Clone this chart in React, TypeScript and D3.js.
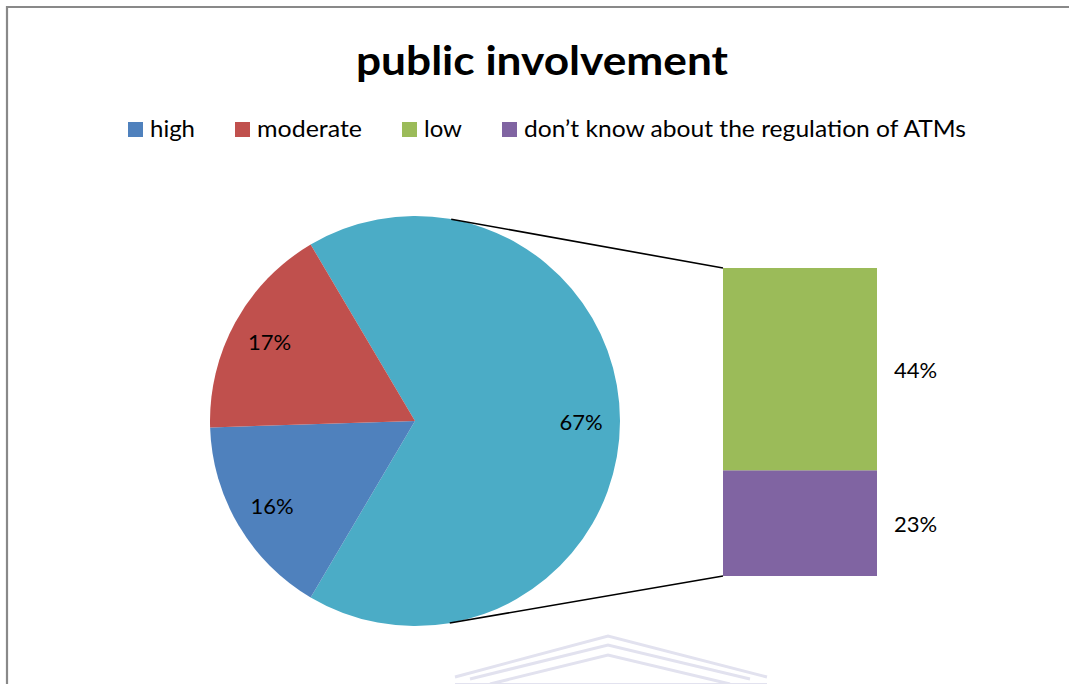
import React from "react";
import * as d3 from "d3";

const title = "public involvement";
const pieCategories = ["other", "high", "moderate"];
const pieValues = [67, 16, 17];
const pieLabels = ["67%", "16%", "17%"];
const barCategories = ["don’t know about the regulation of ATMs", "low"];
const barValues = [23, 44];
const barLabels = ["23%", "44%"];
const legendCategories = ["high", "moderate", "low", "don’t know about the regulation of ATMs"];
const colors: Record<string, string> = {
  high: "#4F81BD",
  moderate: "#C0504D",
  low: "#9BBB59",
  "don’t know about the regulation of ATMs": "#8064A2",
  other: "#4BACC6",
};

const FONT = "Lato, 'Open Sans', sans-serif";

export default function App() {
  const W = 1069, H = 684;
  const cx = 415, cy = 421, r = 205;
  const total = d3.sum(pieValues);
  const otherFrac = pieValues[0] / total;
  const start = Math.PI / 2 - otherFrac * Math.PI;
  const pie = d3.pie<number>().sort(null).value((d) => d).startAngle(start).endAngle(start + 2 * Math.PI);
  const arcs = pie(pieValues);
  const arcGen = d3.arc<d3.PieArcDatum<number>>().innerRadius(0).outerRadius(r);
  const labelArc = d3.arc<d3.PieArcDatum<number>>().innerRadius(r * 0.81).outerRadius(r * 0.81);

  const barX0 = 723, barX1 = 877, barTop = 268, barBottom = 576;
  const y = d3.scaleLinear().domain([0, d3.sum(barValues)]).range([barBottom, barTop]);
  let acc = 0;
  const bars = barValues.map((v, i) => {
    const b = { cat: barCategories[i], y0: y(acc + v), y1: y(acc), label: barLabels[i] };
    acc += v;
    return b;
  });

  const tangent = (px: number, py: number, sign: number) => {
    const dx = px - cx, dy = py - cy;
    const d = Math.hypot(dx, dy);
    const th = Math.atan2(dy, dx);
    const a = th + sign * Math.acos(r / d);
    return [cx + r * Math.cos(a), cy + r * Math.sin(a)];
  };
  const tTop = tangent(barX0, barTop, -1);
  const tBot = tangent(barX0, barBottom, 1);

  const legendX = [128, 235, 402, 502];
  const legendW = [45, 105, 38, 442];

  return (
    <svg width={W} height={H} style={{ position: "absolute", left: 0, top: 0, background: "#fff" }}>
      <rect x={0} y={0} width={W} height={H} fill="#fff" />
      <path d={`M7,${H} V7 H${W}`} fill="none" stroke="#898989" strokeWidth={2.2} />
      <text x={542} y={75} textAnchor="middle" fontFamily={FONT} fontWeight="bold" fontSize={40} textLength={372} lengthAdjust="spacingAndGlyphs" fill="#000">
        {title}
      </text>
      {legendCategories.map((c, i) => (
        <g key={c}>
          <rect x={legendX[i]} y={122} width={15} height={15} fill={colors[c]} />
          <text x={legendX[i] + 22} y={137} fontFamily={FONT} fontSize={24} textLength={legendW[i]} lengthAdjust="spacingAndGlyphs" fill="#000">{c}</text>
        </g>
      ))}
      <g transform={`translate(${cx},${cy})`}>
        {arcs.map((a, i) => (
          <path key={pieCategories[i]} d={arcGen(a) || ""} fill={colors[pieCategories[i]]} />
        ))}
        {arcs.map((a, i) => {
          const [lx, ly] = labelArc.centroid(a);
          return (
            <text key={"l" + i} x={lx} y={ly} textAnchor="middle" dominantBaseline="central" fontFamily={FONT} fontSize={22} fill="#000">
              {pieLabels[i]}
            </text>
          );
        })}
      </g>
      {bars.map((b) => (
        <g key={b.cat}>
          <rect x={barX0} y={b.y0} width={barX1 - barX0} height={b.y1 - b.y0} fill={colors[b.cat]} />
          <text x={894} y={(b.y0 + b.y1) / 2} dominantBaseline="central" fontFamily={FONT} fontSize={22} fill="#000">
            {b.label}
          </text>
        </g>
      ))}
      <line x1={tTop[0]} y1={tTop[1]} x2={barX0} y2={barTop} stroke="#000" strokeWidth={1.6} />
      <line x1={tBot[0]} y1={tBot[1]} x2={barX0} y2={barBottom} stroke="#000" strokeWidth={1.6} />
      <g fill="none" stroke="#e2e2ef" strokeWidth={3}>
        <path d="M455,677 L608,636 L767,677" />
        <path d="M470,679 L608,645 L750,679" />
        <path d="M490,684 L608,655 L730,684" />
        <path d="M455,684 H767" strokeWidth={2} />
      </g>
    </svg>
  );
}
